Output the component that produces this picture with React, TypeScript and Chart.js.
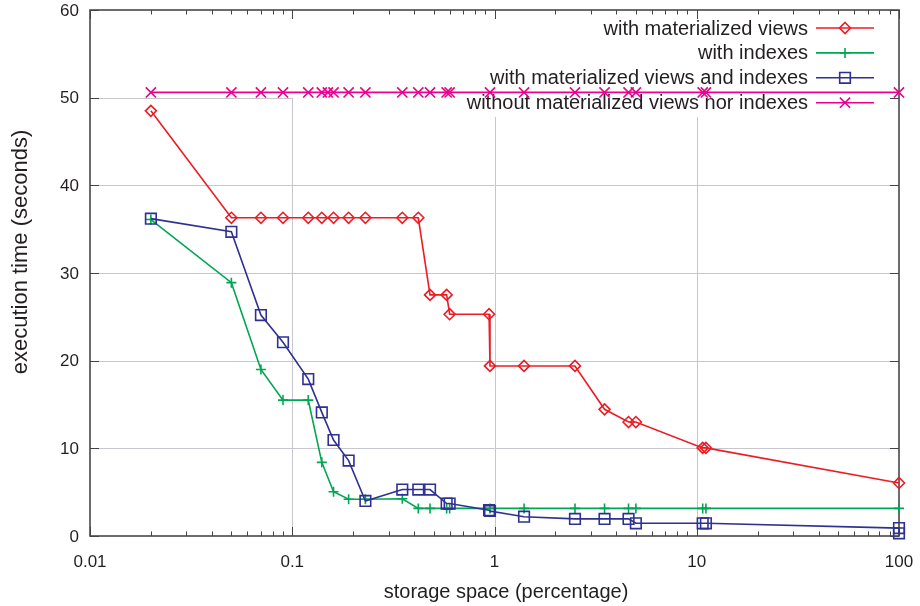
import React, { useEffect, useRef } from 'react';
import { Chart, registerables } from 'chart.js';

Chart.register(...registerables);

// ---- data ----
const seriesLabels = [
  'with materialized views',
  'with indexes',
  'with materialized views and indexes',
  'without materialized views nor indexes',
];

const xMatViews = [0.02, 0.05, 0.07, 0.09, 0.12, 0.14, 0.16, 0.19, 0.23, 0.35, 0.42, 0.48, 0.58, 0.6, 0.94, 0.95, 1.4, 2.5, 3.5, 4.6, 5, 10.7, 11.1, 100];
const yMatViews = [48.5, 36.3, 36.3, 36.3, 36.3, 36.3, 36.3, 36.3, 36.3, 36.3, 36.3, 27.5, 27.5, 25.3, 25.3, 19.4, 19.4, 19.4, 14.45, 13.0, 13.0, 10.05, 10.05, 6.05];

const xIndexes = [0.02, 0.05, 0.07, 0.09, 0.12, 0.14, 0.16, 0.19, 0.23, 0.35, 0.42, 0.48, 0.58, 0.6, 0.95, 1.4, 2.5, 3.5, 4.6, 5, 10.7, 11.1, 100];
const yIndexes = [36.1, 28.9, 19.0, 15.5, 15.5, 8.4, 5.05, 4.2, 4.2, 4.25, 3.15, 3.15, 3.15, 3.15, 3.15, 3.15, 3.15, 3.15, 3.15, 3.15, 3.15, 3.15, 3.15];

const xBoth = [0.02, 0.05, 0.07, 0.09, 0.12, 0.14, 0.16, 0.19, 0.23, 0.35, 0.42, 0.48, 0.58, 0.6, 0.94, 0.95, 1.4, 2.5, 3.5, 4.6, 5, 10.7, 11.1, 100, 100];
const yBoth = [36.2, 34.7, 25.2, 22.1, 17.9, 14.1, 10.95, 8.6, 4.0, 5.3, 5.3, 5.3, 3.7, 3.7, 2.95, 2.85, 2.2, 1.95, 1.95, 1.95, 1.45, 1.45, 1.45, 0.9, 0.3];

const xNone = [0.02, 0.05, 0.07, 0.09, 0.12, 0.14, 0.15, 0.16, 0.19, 0.23, 0.35, 0.42, 0.48, 0.58, 0.6, 0.95, 1.4, 2.5, 3.5, 4.6, 5, 10.7, 11.1, 100];
const yNone = [50.6, 50.6, 50.6, 50.6, 50.6, 50.6, 50.6, 50.6, 50.6, 50.6, 50.6, 50.6, 50.6, 50.6, 50.6, 50.6, 50.6, 50.6, 50.6, 50.6, 50.6, 50.6, 50.6, 50.6];

const xTickValues = [0.01, 0.1, 1, 10, 100];
const xTickLabels = ['0.01', '0.1', '1', '10', '100'];
const yTickValues = [0, 10, 20, 30, 40, 50, 60];
const yTickLabels = ['0', '10', '20', '30', '40', '50', '60'];
const xTitle = 'storage space (percentage)';
const yTitle = 'execution time (seconds)';

// ---- styles ----
const colors = ['#ED1C24', '#00A651', '#2E3192', '#EC008C'];
const pointStyles = ['rectRot', 'cross', 'rect', 'crossRot'];
const pointRadii = [5.5, 5, 7.5, 7.2];
const TEXT = '#231f20';
const FONT_TICK = '17px "Liberation Sans", Arial, sans-serif';
const FONT_BIG = '20px "Liberation Sans", Arial, sans-serif';
const FONT_YTITLE = '22px "Liberation Sans", Arial, sans-serif';

function pts(xs: number[], ys: number[]) {
  return xs.map((x, i) => ({ x, y: ys[i] }));
}

function drawMarker(ctx: CanvasRenderingContext2D, style: string, r: number, cx: number, cy: number) {
  ctx.beginPath();
  if (style === 'rectRot') {
    ctx.moveTo(cx, cy - r); ctx.lineTo(cx + r, cy); ctx.lineTo(cx, cy + r); ctx.lineTo(cx - r, cy); ctx.closePath();
  } else if (style === 'cross') {
    ctx.moveTo(cx - r, cy); ctx.lineTo(cx + r, cy); ctx.moveTo(cx, cy - r); ctx.lineTo(cx, cy + r);
  } else if (style === 'rect') {
    const s = r * Math.SQRT1_2;
    ctx.rect(cx - s, cy - s, 2 * s, 2 * s);
  } else {
    const s = r * Math.SQRT1_2;
    ctx.moveTo(cx - s, cy - s); ctx.lineTo(cx + s, cy + s); ctx.moveTo(cx - s, cy + s); ctx.lineTo(cx + s, cy - s);
  }
  ctx.stroke();
}

const gnuplotPlugin = {
  id: 'gnuplotLook',
  beforeDatasetsDraw(chart: any) {
    const { ctx, chartArea: a, scales } = chart;
    const xs = scales.x;
    const ys = scales.y;
    ctx.save();
    const line = (x1: number, y1: number, x2: number, y2: number) => {
      ctx.beginPath(); ctx.moveTo(x1, y1); ctx.lineTo(x2, y2); ctx.stroke();
    };

    // grid (gnuplot leaves the key area clear)
    ctx.strokeStyle = '#c6c7ce';
    ctx.lineWidth = 1;
    for (const v of yTickValues) {
      if (v === yTickValues[0] || v === yTickValues[yTickValues.length - 1]) continue;
      const py = Math.round(ys.getPixelForValue(v)) + 0.5;
      const xEnd = v >= 50 ? xs.getPixelForValue(0.1) : a.right;
      line(a.left, py, xEnd, py);
    }
    for (const v of xTickValues) {
      if (v === xTickValues[0] || v === xTickValues[xTickValues.length - 1]) continue;
      const px = Math.round(xs.getPixelForValue(v)) + 0.5;
      const yStart = v === 0.1 ? ys.getPixelForValue(50) : ys.getPixelForValue(47.8);
      line(px, yStart, px, a.bottom);
    }

    // frame
    ctx.strokeStyle = '#3c3c3c';
    ctx.lineWidth = 1.5;
    ctx.strokeRect(a.left, a.top, a.right - a.left, a.bottom - a.top);

    // ticks
    ctx.lineWidth = 1;
    ctx.strokeStyle = '#444';
    for (const v of yTickValues) {
      const py = Math.round(ys.getPixelForValue(v)) + 0.5;
      line(a.left, py, a.left + 9, py);
      line(a.right, py, a.right - 9, py);
    }
    for (let d = 0; d < xTickValues.length; d++) {
      const dec = xTickValues[d];
      const px = Math.round(xs.getPixelForValue(dec)) + 0.5;
      line(px, a.bottom, px, a.bottom - 9);
      line(px, a.top, px, a.top + 9);
      if (d < xTickValues.length - 1) {
        for (let k = 2; k <= 9; k++) {
          const mx = Math.round(xs.getPixelForValue(dec * k)) + 0.5;
          line(mx, a.bottom, mx, a.bottom - 4.5);
          line(mx, a.top, mx, a.top + 4.5);
        }
      }
    }

    // tick labels
    ctx.fillStyle = TEXT;
    ctx.font = FONT_TICK;
    ctx.textBaseline = 'middle';
    ctx.textAlign = 'center';
    xTickValues.forEach((v, i) => {
      ctx.fillText(xTickLabels[i], xs.getPixelForValue(v), a.bottom + 26);
    });
    ctx.textAlign = 'right';
    yTickValues.forEach((v, i) => {
      ctx.fillText(yTickLabels[i], a.left - 11, ys.getPixelForValue(v) + 1);
    });

    // axis titles
    ctx.font = FONT_BIG;
    ctx.textAlign = 'center';
    ctx.fillText(xTitle, (a.left + a.right) / 2 + 11.5, a.bottom + 56);
    ctx.save();
    ctx.font = FONT_YTITLE;
    ctx.translate(21, 252);
    ctx.rotate(-Math.PI / 2);
    ctx.fillText(yTitle, 0, 0);
    ctx.restore();

    // key
    ctx.font = FONT_BIG;
    ctx.textAlign = 'right';
    seriesLabels.forEach((lab, i) => {
      const ry = a.top + 18 + i * 24.9;
      ctx.fillStyle = TEXT;
      ctx.fillText(lab, a.right - 91, ry + 1);
      ctx.strokeStyle = colors[i];
      ctx.lineWidth = 1.6;
      line(a.right - 83, ry, a.right - 25, ry);
      drawMarker(ctx, pointStyles[i], pointRadii[i], a.right - 54, ry);
    });

    ctx.restore();
  },
};

export default function App() {
  const ref = useRef<HTMLCanvasElement | null>(null);

  useEffect(() => {
    if (!ref.current) return;
    const series = [
      pts(xMatViews, yMatViews),
      pts(xIndexes, yIndexes),
      pts(xBoth, yBoth),
      pts(xNone, yNone),
    ];
    const chart = new Chart(ref.current, {
      type: 'scatter',
      data: {
        datasets: series.map((data, i) => ({
          label: seriesLabels[i],
          data,
          showLine: true,
          borderColor: colors[i],
          backgroundColor: 'transparent',
          borderWidth: 1.6,
          pointStyle: pointStyles[i] as any,
          pointRadius: pointRadii[i],
          pointBorderWidth: 1.6,
          pointBorderColor: colors[i],
          pointBackgroundColor: 'transparent',
          tension: 0,
          clip: false as any,
          order: 3 - i,
        })),
      },
      options: {
        responsive: false,
        animation: false,
        events: [],
        layout: { padding: { top: 10, right: 21, left: 0, bottom: 0 } },
        plugins: { legend: { display: false }, tooltip: { enabled: false } },
        scales: {
          x: {
            type: 'logarithmic',
            min: 0.01,
            max: 100,
            ticks: { display: false },
            grid: { display: false, drawTicks: false },
            border: { display: false },
            afterFit: (s: any) => { s.height = 70; },
          },
          y: {
            type: 'linear',
            min: 0,
            max: 60,
            ticks: { display: false, stepSize: 10 },
            grid: { display: false, drawTicks: false },
            border: { display: false },
            afterFit: (s: any) => { s.width = 90; },
          },
        },
      },
      plugins: [gnuplotPlugin],
    });
    return () => chart.destroy();
  }, []);

  return (
    <div style={{ position: 'absolute', left: 0, top: 0, width: 920, height: 606, background: '#fff' }}>
      <canvas ref={ref} width={920} height={606} style={{ width: 920, height: 606 }} />
    </div>
  );
}
